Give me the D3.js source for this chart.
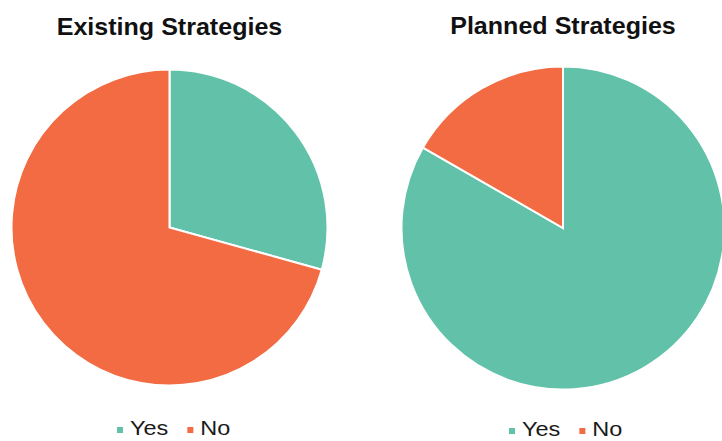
<!DOCTYPE html>
<html>
<head>
<meta charset="utf-8">
<script src="https://cdn.jsdelivr.net/npm/d3@7"></script>
<style>
  body { margin: 0; background: #fff; }
  text { font-family: "Liberation Sans", Arial, sans-serif; }
</style>
</head>
<body>
<svg id="chart"></svg>
<script>
// data (percent)
const categories = ["Yes", "No"];
const existingValues = [29.3, 70.7];
const plannedValues = [83.3, 16.7];
const titles = ["Existing Strategies", "Planned Strategies"];

const colors = ["#62c2a9", "#f26b43"];

const width = 722, height = 441;
const svg = d3.select("#chart").attr("width", width).attr("height", height);

const color = d3.scaleOrdinal().domain(categories).range(colors);

const panels = [
    {title: titles[0], values: existingValues, cx: 169.5, cy: 227.5, r: 158, titleY: 35, legendX: 117, legendY: 435},
    {title: titles[1], values: plannedValues, cx: 563, cy: 228, r: 161.5, titleY: 33.5, legendX: 509, legendY: 436}
];

const pie = d3.pie().sort(null).value(d => d.value);

panels.forEach(p => {
    const g = svg.append("g").attr("transform", `translate(${p.cx},${p.cy})`);
    const arc = d3.arc().innerRadius(0).outerRadius(p.r);
    const rows = categories.map((c, i) => ({key: c, value: p.values[i]}));

    g.selectAll("path")
        .data(pie(rows))
        .join("path")
        .attr("d", arc)
        .attr("fill", d => color(d.data.key))
        .attr("stroke", "#fff")
        .attr("stroke-width", 2);

    // title, a bit wider than Liberation Sans
    svg.append("text")
        .attr("transform", `translate(${p.cx},${p.titleY}) scale(1.09,1)`)
        .attr("text-anchor", "middle")
        .attr("font-size", 23)
        .attr("font-weight", "bold")
        .attr("fill", "#111")
        .text(p.title);

    // legend
    const leg = svg.append("g").attr("transform", `translate(${p.legendX},${p.legendY})`);
    let x = 0;
    categories.forEach(c => {
        leg.append("rect")
            .attr("x", x)
            .attr("y", -8)
            .attr("width", 6)
            .attr("height", 6)
            .attr("fill", color(c));
        const t = leg.append("text")
            .attr("transform", `translate(${x + 13},0) scale(1.12,1)`)
            .attr("font-size", 21)
            .attr("fill", "#1a1a1a")
            .text(c);
        x += 13 + t.node().getComputedTextLength() * 1.12 + 19;
    });
});
</script>
</body>
</html>
